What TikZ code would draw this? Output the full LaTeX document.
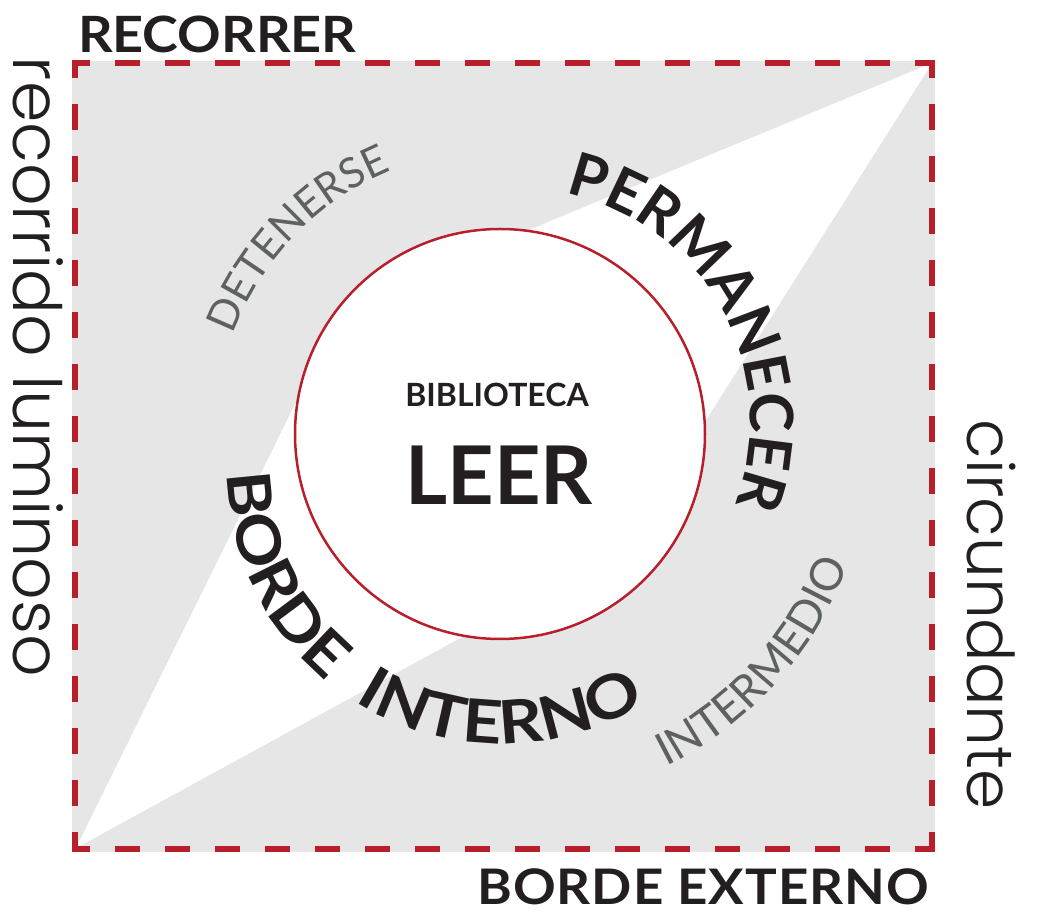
\documentclass[tikz,border=0pt]{standalone}
\usepackage{fontspec}
\usetikzlibrary{decorations.text}
\setmainfont{Lato}
\newfontfamily\latofont{Lato}
\newfontfamily\latowide{Lato}[FakeStretch=1.08]
\newfontfamily\latoext{Lato}[FakeStretch=1.08, LetterSpace=2]
\newfontfamily\latotrack{Lato}[FakeStretch=1.15, LetterSpace=21]
\IfFontExistsTF{Poppins Light}{\newfontfamily\thinfont{Poppins Light}}{\newfontfamily\thinfont{Poppins}}
\definecolor{bggray}{HTML}{E7E6E7}
\definecolor{bordred}{HTML}{B71F2A}
\definecolor{txtdark}{HTML}{231F20}
\definecolor{txtgray}{HTML}{5D615F}
\newcommand{\fsz}[1]{\fontsize{#1}{#1}\selectfont}
\newcommand{\bigarcfont}{\latofont\bfseries\fsz{60}}
\newcommand{\trackarcfont}{\latotrack\bfseries\fsz{60}}
\newcommand{\detfont}{\latofont\fsz{42}}
\newcommand{\intfont}{\latofont\fsz{45}}
\tikzset{
  every node/.style={inner sep=0pt, outer sep=0pt},
  borderline/.style={draw=bordred, line width=6.5pt, line cap=butt},
  hdash/.style={borderline, dash pattern=on 25pt off 25pt, dash phase=6.75pt},
  vdash/.style={borderline, dash pattern=on 26pt off 26pt, dash phase=7.75pt},
  heading/.style={font=\latowide\bfseries\fsz{50}, text=txtdark},
  thinlabel/.style={font=\thinfont\fsz{66.5}, text=txtdark, rotate=-90, anchor=base west},
}
\begin{document}
\begin{tikzpicture}[x=1pt,y=1pt]
\useasboundingbox (0,0) rectangle (1037,913);
% background
\fill[bggray] (72,61) rectangle (935,852);
\coordinate (TR) at (932,850);
\coordinate (A) at (343,606);
\coordinate (BL) at (76,65);
\coordinate (B) at (625,365);
\fill[white] (TR) -- (A) -- (BL) -- (B) -- cycle;
% circle
\node[circle, draw=bordred, fill=white, line width=2.5pt, minimum size=410pt] (circ) at (500,479) {};
% border corners
\coordinate (c1) at (75,850);
\coordinate (c2) at (932,850);
\coordinate (c3) at (932,64);
\coordinate (c4) at (75,64);
\draw[hdash] ([xshift=-3.25pt]c1) -- ([xshift=3.25pt]c2);
\draw[hdash] ([xshift=-3.25pt]c4) -- ([xshift=3.25pt]c3);
\draw[vdash] ([yshift=3.25pt]c1) -- ([yshift=-3.25pt]c4);
\draw[vdash] ([yshift=3.25pt]c2) -- ([yshift=-3.25pt]c3);
% straight labels
\node[heading, anchor=base west] (recorrer) at (78,860) {RECORRER};
\node[heading, font=\latoext\bfseries\fsz{49}, anchor=base east] (externo) at (929,8) {BORDE EXTERNO};
\node[font=\latofont\bfseries\fsz{32}, text=txtdark, anchor=base] (biblio) at (497,506) {BIBLIOTECA};
\node[font=\latofont\bfseries\fsz{81}, text=txtdark, anchor=base] (leer) at (499,408) {LEER};
\node[thinlabel] (recorrido) at (13,856) {recorrido luminoso};
\node[thinlabel, font=\thinfont\fsz{64.5}] (circund) at (967,493) {circundante};
% curved labels
\coordinate (pc) at (517,492);
\coordinate (cc) at (500,479);
\coordinate (bc) at (501,443);
\path[decorate, decoration={text along path, text align=center, text color=txtdark,
  text={|\bigarcfont|PERMANECER}}]
  (pc) ++(98.5:233) arc[start angle=98.5, end angle=-41.5, radius=233];
\path[decorate, decoration={text along path, text align=center, text color=txtgray,
  text={|\detfont|DETENERSE}}]
  (cc) ++(186:285) arc[start angle=186, end angle=86, radius=285];
\path[decorate, decoration={text along path, text align=center, text color=txtgray,
  text={|\intfont|INTERMEDIO}}]
  (cc) ++(-87:372) arc[start angle=-87, end angle=3, radius=372];
\path[decorate, decoration={text along path, text align=center, text color=txtdark,
  text={|\trackarcfont|BORDE{\hspace{34pt}}INTERNO}}]
  (bc) ++(156.4:274) arc[start angle=156.4, end angle=326.4, radius=274];
\end{tikzpicture}
\end{document}
